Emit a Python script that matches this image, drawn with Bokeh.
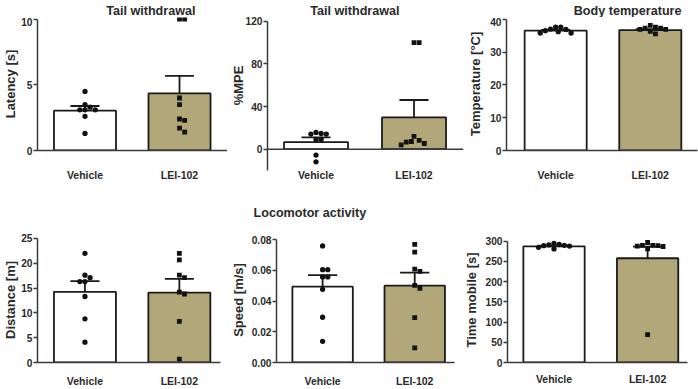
import numpy as np
from bokeh.plotting import figure
from bokeh.layouts import column, row
from bokeh.models import FixedTicker, Span, Range1d, PrintfTickFormatter, ColumnDataSource
from bokeh.embed import file_html
from bokeh.resources import INLINE
from bokeh.core.properties import value

# ---------------- data ----------------
groups = ["Vehicle", "LEI-102"]

latency_vehicle = [4.5, 3.5, 3.3, 3.1, 3.1, 3.1, 2.6, 1.3]
latency_lei = [10.0, 10.0, 4.0, 3.5, 2.4, 2.3, 1.7, 1.4]
latency_mean = [3.03, 4.35]
latency_sem = [0.36, 1.33]
latency_ticks = [0, 5, 10]

mpe_vehicle = [15.7, 14.7, 14.1, 14.1, 9.1, 9.1, -5.6, -11.9]
mpe_lei = [100.0, 100.0, 11.9, 8.2, 7.2, 6.6, 5.3, 4.1]
mpe_mean = [6.6, 29.8]
mpe_sem = [4.4, 16.3]
mpe_ticks = [0, 40, 80, 120]

temp_vehicle = [37.6, 37.6, 37.0, 36.9, 36.5, 36.2, 35.8, 35.8]
temp_lei = [38.1, 37.6, 37.3, 37.3, 36.9, 36.9, 36.3, 35.5]
temp_mean = [36.5, 36.7]
temp_sem = [0.25, 0.28]
temp_ticks = [0, 10, 20, 30, 40]

distance_vehicle = [22.0, 17.6, 17.1, 16.3, 16.3, 13.3, 8.8, 4.1]
distance_lei = [22.0, 20.7, 17.6, 17.1, 14.2, 13.8, 8.3, 0.7]
distance_mean = [14.25, 14.1]
distance_sem = [2.15, 2.75]
distance_ticks = [0, 5, 10, 15, 20, 25]

speed_vehicle = [0.076, 0.0605, 0.0605, 0.0558, 0.0558, 0.0477, 0.0295, 0.0138]
speed_lei = [0.077, 0.0719, 0.0609, 0.0594, 0.0503, 0.0484, 0.0293, 0.0095]
speed_mean = [0.0494, 0.0501]
speed_sem = [0.0075, 0.0085]
speed_ticks = [0.0, 0.02, 0.04, 0.06, 0.08]

mobile_vehicle = [295, 292, 291, 290, 289, 288, 285, 281]
mobile_lei = [297, 290, 290, 289, 288, 287, 281, 69]
mobile_mean = [287.6, 258.0]
mobile_sem = [1.8, 28.8]
mobile_ticks = [0, 50, 100, 150, 200, 250, 300]

# ---------------- styling / layout ----------------
FONT = "Liberation Sans"
AX = "#3a3a3a"
TXT = "#2a2a2a"
EDGE = "#1a1a1a"
FILLS = ["#ffffff", "#b2a778"]
TITLE_SIZE = "12.6px"


def swarm(vals, ppu, d):
    order = sorted(range(len(vals)), key=lambda i: -vals[i])
    placed = []
    offs = [0.0] * len(vals)
    cands = [0.0]
    for m in range(1, 30):
        cands += [m * d / 2, -m * d / 2]
    for i in order:
        yy = vals[i] * ppu
        chosen = cands[-1]
        for c in cands:
            if all((c - px) ** 2 + (yy - py) ** 2 >= (0.97 * d) ** 2 for px, py in placed):
                chosen = c
                break
        placed.append((chosen, yy))
        offs[i] = chosen
    return offs


def text_strip(x0, x1, y0, y1, text, tx, tbase):
    w, h = int(round(x1 - x0)), int(round(y1 - y0))
    s = figure(width=w, height=h, x_range=Range1d(0, w), y_range=Range1d(0, h),
               output_backend="svg", toolbar_location=None,
               x_axis_location=None, y_axis_location=None, min_border=0)
    s.xgrid.visible = False
    s.ygrid.visible = False
    s.outline_line_color = None
    s.text(x=[tx - x0], y=[h - (tbase - y0)], text=[text],
           text_font=value(FONT), text_font_style="bold", text_font_size=TITLE_SIZE,
           text_align="left", text_baseline="alphabetic", text_color=TXT)
    return s


def panel(box, frame_x, frame_y, yref, centers, bar_px, bounds, ticks, ylabel,
          label_std, cat_std, vehicle, lei, mean, sem, fmt=None, title=None,
          zero_line=False):
    x0, x1, y0, y1 = box
    fl, fr = frame_x
    ft, fb = frame_y
    (va, pa), (vb, pb) = yref
    ppu = (pa - pb) / (vb - va)
    ystart = va + (pa - fb) / ppu
    yend = va + (pa - ft) / ppu
    vc, lc = centers
    sp = lc - vc
    xstart = 1 - (vc - fl) / sp
    xend = 2 + (fr - lc) / sp

    R = lambda v: int(round(v))
    p = figure(width=R(x1) - R(x0), height=R(y1) - R(y0),
               x_range=Range1d(xstart, xend), y_range=Range1d(ystart, yend),
               output_backend="svg", toolbar_location=None,
               min_border_left=R(fl) - R(x0), min_border_right=R(x1) - R(fr),
               min_border_top=R(ft) - R(y0), min_border_bottom=R(y1) - R(fb))
    p.xgrid.visible = False
    p.ygrid.visible = False
    p.outline_line_color = None
    p.background_fill_color = "white"
    p.border_fill_color = "white"

    xs = [1, 2]
    src = ColumnDataSource(dict(x=xs, top=mean, fill=FILLS,
                                err=[m + s for m, s in zip(mean, sem)]))
    p.vbar(x="x", top="top", bottom=0, width=bar_px / sp, source=src,
           fill_color="fill", line_color=EDGE, line_width=1.8)
    cap = 15.0 / sp
    p.segment(x0="x", y0="top", x1="x", y1="err", source=src,
              line_color=EDGE, line_width=1.8)
    src_cap = ColumnDataSource(dict(a=[x - cap for x in xs], b=[x + cap for x in xs],
                                    err=[m + s for m, s in zip(mean, sem)]))
    p.segment(x0="a", y0="err", x1="b", y1="err", source=src_cap,
              line_color=EDGE, line_width=1.8)

    if zero_line:
        p.add_layout(Span(location=0, dimension="width", line_color=AX, line_width=1.5))

    d = 5.3
    ov = swarm(vehicle, ppu, d)
    ol = swarm(lei, ppu, d)
    p.scatter([1 + o / sp for o in ov], vehicle, marker="circle", size=5.3,
              fill_color="#111111", line_color=None)
    p.scatter([2 + o / sp for o in ol], lei, marker="square", size=4.8,
              fill_color="#111111", line_color=None)

    if title is not None:
        ttext, tleft, tbase = title
        p.text(x=[1 + (tleft - vc) / sp], y=[va + (pa - tbase) / ppu], text=[ttext],
               text_font=value(FONT), text_font_style="bold", text_font_size=TITLE_SIZE,
               text_align="left", text_baseline="alphabetic", text_color=TXT)

    ya = p.yaxis[0]
    ya.ticker = FixedTicker(ticks=ticks)
    ya.bounds = bounds
    ya.axis_line_color = AX
    ya.axis_line_width = 1.5
    ya.major_tick_line_color = AX
    ya.major_tick_line_width = 1.5
    ya.major_tick_out = 4
    ya.major_tick_in = 0
    ya.minor_tick_line_color = None
    ya.minor_tick_out = 0
    ya.minor_tick_in = 0
    ya.major_label_standoff = 1
    ya.major_label_text_font = FONT
    ya.major_label_text_font_style = "bold"
    ya.major_label_text_font_size = "10.2px"
    ya.major_label_text_color = TXT
    ya.axis_label = ylabel
    ya.axis_label_standoff = label_std
    ya.axis_label_text_font = FONT
    ya.axis_label_text_font_style = "bold"
    ya.axis_label_text_font_size = "13px"
    ya.axis_label_text_color = TXT
    if fmt is not None:
        ya.formatter = PrintfTickFormatter(format=fmt)

    xa = p.xaxis[0]
    xa.ticker = FixedTicker(ticks=xs)
    xa.major_label_overrides = {1: groups[0], 2: groups[1]}
    xa.major_tick_line_color = None
    xa.minor_tick_line_color = None
    xa.major_tick_out = 0
    xa.major_tick_in = 0
    xa.minor_tick_out = 0
    xa.minor_tick_in = 0
    xa.major_label_standoff = cat_std
    xa.major_label_text_font = FONT
    xa.major_label_text_font_style = "bold"
    xa.major_label_text_font_size = "10.5px"
    xa.major_label_text_color = TXT
    if zero_line:
        xa.axis_line_color = None
    else:
        xa.axis_line_color = AX
        xa.axis_line_width = 1.5
    return p


# ---- row 1 ----
t1 = text_strip(0, 227, 0, 17, "Tail withdrawal", 82, 10.7)
p1 = panel((0, 227, 17, 186), (31, 227), (17, 149.7), ((0, 149.7), (10, 18.7)),
           (80, 177.5), 64, (0, 10), latency_ticks, "Latency [s]", 0, 18,
           latency_vehicle, latency_lei, latency_mean, latency_sem)
p2 = panel((227, 465, 0, 186), (261, 463), (0, 169.6), ((0, 148.3), (120, 20.7)),
           (311, 412), 66, (-20, 120), mpe_ticks, "%MPE", -3, -2,
           mpe_vehicle, mpe_lei, mpe_mean, mpe_sem,
           title=("Tail withdrawal", 305, 10.7), zero_line=True)
t3 = text_strip(465, 698, 0, 17, "Body temperature", 547, 10.7)
p3 = panel((465, 698, 17, 186), (500, 697), (17, 149.7), ((0, 149.7), (40, 18.7)),
           (550.7, 648.3), 64, (0, 40), temp_ticks, "Temperature [°C]", 4, 18,
           temp_vehicle, temp_lei, temp_mean, temp_sem)

# ---- section title ----
strip = text_strip(0, 698, 186, 225, "Locomotor activity", 253, 212.7)

# ---- row 2 ----
p4 = panel((0, 227, 225, 389), (31, 220), (233, 365), ((0, 365), (25, 234)),
           (80, 177.5), 64, (0, 25), distance_ticks, "Distance [m]", 0, 12,
           distance_vehicle, distance_lei, distance_mean, distance_sem)
p5 = panel((227, 460, 225, 389), (271.7, 454.3), (237, 365), ((0, 365), (0.08, 239.3)),
           (319, 413.5), 62, (0, 0.08), speed_ticks, "Speed [m/s]", 3, 12,
           speed_vehicle, speed_lei, speed_mean, speed_sem, fmt="%.2f")
p6 = panel((460, 698, 225, 389), (501.7, 686.7), (233.7, 366.3), ((0, 366.3), (300, 237.7)),
           (549.5, 645.7), 63, (0, 300), mobile_ticks, "Time mobile [s]", 4, 10,
           mobile_vehicle, mobile_lei, mobile_mean, mobile_sem)

layout = column(row(column(t1, p1), p2, column(t3, p3)), strip, row(p4, p5, p6))
open("out.html", "w").write(file_html(layout, INLINE))
